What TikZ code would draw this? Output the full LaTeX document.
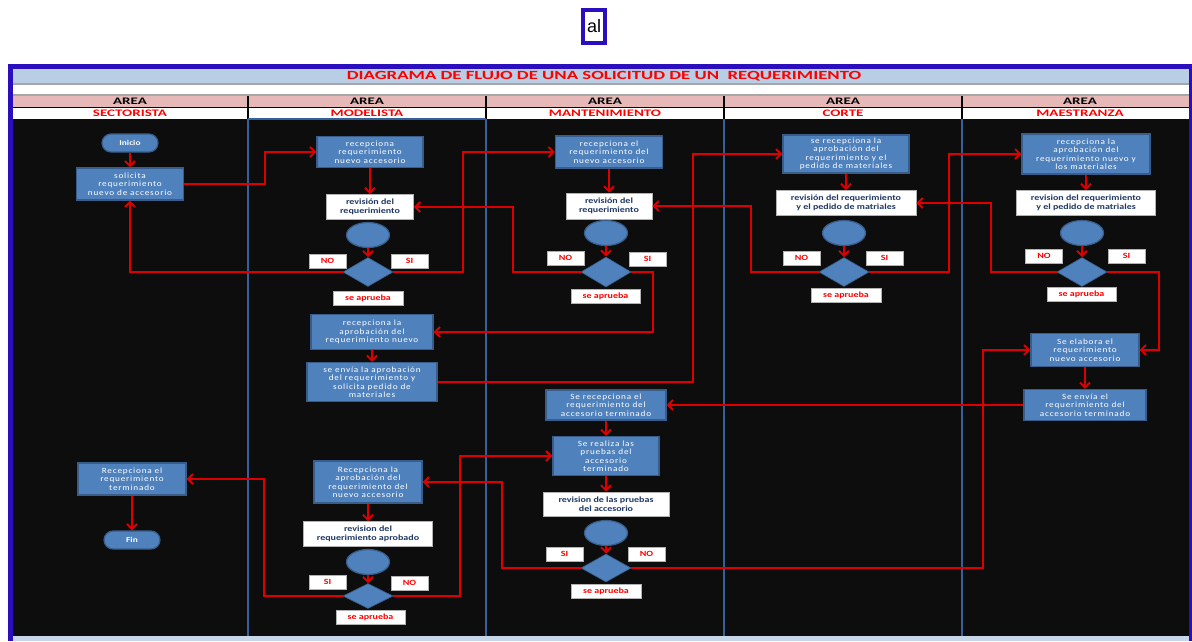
\documentclass[tikz,border=0pt]{standalone}
\usepackage{fontspec}
\usetikzlibrary{shapes.geometric,arrows.meta}
\newfontfamily\xlfont{Carlito}[FakeStretch=1.25]
\newfontfamily\xlwide{Carlito}[FakeStretch=1.5]
\newfontfamily\xlspaced{Carlito}[FakeStretch=1.15,LetterSpace=10]
\newfontfamily\alfont{Liberation Sans}
\definecolor{frame}{HTML}{2B0FBE}
\definecolor{boxblue}{HTML}{4F81BD}
\definecolor{boxedge}{HTML}{385D8A}
\definecolor{flowred}{HTML}{DC0000}
\definecolor{navytxt}{HTML}{1F3864}
\definecolor{titlebar}{HTML}{B9CDE5}
\definecolor{pinkrow}{HTML}{E6B9B8}
\definecolor{body}{HTML}{0D0D0D}
\definecolor{colline}{HTML}{34619C}
\tikzset{
	proc/.style={draw=boxedge, line width=1.2, fill=boxblue, text=white, align=center, inner sep=1,
		font=\xlspaced\fontsize{8}{8.5}\selectfont},
	pill/.style={draw=boxedge, line width=1.2, fill=boxblue, text=white, rounded corners=9,
		minimum width=56, minimum height=18, font=\xlfont\bfseries\fontsize{7.5}{9}\selectfont},
	chk/.style={draw=gray!60, line width=0.8, fill=white, text=navytxt, align=center, inner sep=1,
		font=\xlfont\bfseries\fontsize{8}{9.5}\selectfont},
	tagbox/.style={draw=gray!60, line width=0.8, fill=white, text=red, inner sep=0,
		minimum width=37, minimum height=14, font=\xlfont\bfseries\fontsize{8}{9}\selectfont},
	ovl/.style={ellipse, draw=boxedge, line width=1.2, fill=boxblue, inner sep=0, minimum width=43, minimum height=25},
	dmd/.style={diamond, draw=boxedge, line width=0.6, fill=boxblue, inner sep=0, minimum width=50, minimum height=29},
	flow/.style={draw=flowred, line width=2, -{Straight Barb[length=5pt,width=10pt]}}
}
\begin{document}
\begin{tikzpicture}[x=1pt,y=-1pt]
	\useasboundingbox (0,0) rectangle (1192,641);
	\fill[white] (0,0) rectangle (1192,641);
	\node[draw=frame, line width=4.5, fill=white, minimum width=22, minimum height=33, inner sep=0,
		font=\alfont\fontsize{18}{18}\selectfont] (al) at (594,26.5) {al};
	
	\fill[frame] (8,64) rectangle (1192,641);
	\fill[titlebar] (13,69) rectangle (1189,83);
	\fill[gray!70] (13,83) rectangle (1189,96);
	\fill[white] (13,85) rectangle (1189,94);
	\fill[pinkrow] (13,96) rectangle (1189,107);
	\fill[white] (13,108) rectangle (1189,119);
	\fill[body] (13,119) rectangle (1189,636);
	\fill[titlebar!80!white] (13,636) rectangle (1189,641);
	\draw[black, line width=1.2] (13,107.5) -- (1189,107.5);
	\node[text=red, font=\xlwide\bfseries\fontsize{12.5}{14}\selectfont] (ttl) at (604,76) {DIAGRAMA DE FLUJO DE UNA SOLICITUD DE UN \ REQUERIMIENTO};
	\foreach \cx/\nm [count=\i] in {130/SECTORISTA, 367/MODELISTA, 605/MANTENIMIENTO, 843/CORTE, 1080/MAESTRANZA} {
		\node[font=\xlwide\bfseries\fontsize{10}{10}\selectfont] (area\i) at (\cx,101.5) {AREA};
		\node[text=red, font=\xlwide\bfseries\fontsize{10}{10}\selectfont] (col\i) at (\cx,113.5) {\nm};
	}
	\foreach \lx in {248,486,724,962} {
		\draw[black, line width=1.2] (\lx,96) -- (\lx,119);
		\draw[colline, line width=1.2] (\lx,119) -- (\lx,636);
	}
	\draw[colline, line width=1.2] (248,119) -- (486,119);
	
	\node[pill] (ini) at (130,143) {Inicio};
	\node[proc, minimum width=107, minimum height=32] (soli) at (130,184) {solicita\\requerimiento\\nuevo de accesorio};
	\node[proc, minimum width=108, minimum height=32] (recsec) at (132,479) {Recepciona el\\requerimiento\\terminado};
	\node[pill] (fin) at (132,540) {Fin};
	
	\node[proc, minimum width=106, minimum height=31] (recmod) at (370,152) {recepciona\\requerimiento\\nuevo accesorio};
	\node[chk, minimum width=87, minimum height=25] (revmod) at (370,207) {revisión del\\requerimiento};
	\node[ovl] (omod) at (368,235) {};
	\node[dmd] (dmod) at (368,272) {};
	\node[tagbox] (nomod) at (327.5,261) {NO};
	\node[tagbox] (simod) at (409.5,261) {SI};
	\node[tagbox, minimum width=70] (okmod) at (368,298) {se aprueba};
	\node[proc, minimum width=122, minimum height=35] (apmod) at (372,332) {recepciona la\\aprobación del\\requerimiento nuevo};
	\node[proc, minimum width=130, minimum height=39] (envmod) at (372,382) {se envía la aprobación\\del requerimiento y\\solicita pedido de\\materiales};
	\node[proc, minimum width=108, minimum height=42] (apmod2) at (368,482) {Recepciona la\\aprobación del\\requerimiento del\\nuevo accesorio};
	\node[chk, minimum width=129, minimum height=25] (revmod2) at (368,534) {revision del\\requerimiento aprobado};
	\node[ovl] (omod2) at (368,562) {};
	\node[dmd, minimum height=25] (dmod2) at (368,596) {};
	\node[tagbox] (simod2) at (327.5,582) {SI};
	\node[tagbox] (nomod2) at (409.5,583) {NO};
	\node[tagbox, minimum width=69] (okmod2) at (370.5,617.5) {se aprueba};
	
	\node[proc, minimum width=107, minimum height=32] (recman) at (609,152) {recepciona el\\requerimiento del\\nuevo accesorio};
	\node[chk, minimum width=86, minimum height=26] (revman) at (609,206) {revisión del\\requerimiento};
	\node[ovl] (oman) at (606,233) {};
	\node[dmd, minimum height=30] (dman) at (606,272) {};
	\node[tagbox] (noman) at (565.5,258) {NO};
	\node[tagbox] (siman) at (647.5,259) {SI};
	\node[tagbox, minimum width=69] (okman) at (605.5,296) {se aprueba};
	\node[proc, minimum width=120, minimum height=30] (recter) at (606,405) {Se recepciona el\\requerimiento del\\accesorio terminado};
	\node[proc, minimum width=106, minimum height=39] (prueba) at (606,456) {Se realiza las\\pruebas del\\accesorio\\terminado};
	\node[chk, minimum width=126, minimum height=24] (revman2) at (606,504) {revision de las pruebas\\del accesorio};
	\node[ovl] (oman2) at (606,533) {};
	\node[dmd, minimum height=28] (dman2) at (606,568) {};
	\node[tagbox] (siman2) at (564.5,554) {SI};
	\node[tagbox] (noman2) at (646.5,554) {NO};
	\node[tagbox, minimum width=70] (okman2) at (606,591.5) {se aprueba};
	
	\node[proc, minimum width=126, minimum height=38] (reccor) at (846,154) {se recepciona la\\aprobación del\\requerimiento y el\\pedido de materiales};
	\node[chk, minimum width=140, minimum height=25] (revcor) at (846,203) {revisión del requerimiento\\y el pedido de matriales};
	\node[ovl] (ocor) at (844,233) {};
	\node[dmd] (dcor) at (844,272) {};
	\node[tagbox] (nocor) at (801.5,258) {NO};
	\node[tagbox] (sicor) at (884.5,258) {SI};
	\node[tagbox, minimum width=70] (okcor) at (846,295.5) {se aprueba};
	
	\node[proc, minimum width=128, minimum height=40] (recmae) at (1086,154) {recepciona la\\aprobación del\\requerimiento nuevo y\\los materiales};
	\node[chk, minimum width=139, minimum height=25] (revmae) at (1086,203) {revision del requerimiento\\y el pedido de matriales};
	\node[ovl] (omae) at (1082,233) {};
	\node[dmd] (dmae) at (1082,272) {};
	\node[tagbox] (nomae) at (1044,256) {NO};
	\node[tagbox] (simae) at (1126.5,256) {SI};
	\node[tagbox, minimum width=69] (okmae) at (1081.5,294) {se aprueba};
	\node[proc, minimum width=108, minimum height=33] (elab) at (1085,350) {Se elabora el\\requerimiento\\nuevo accesorio};
	\node[proc, minimum width=122, minimum height=31] (envmae) at (1085,405) {Se envía el\\requerimiento del\\accesorio terminado};
	
	\draw[flow] (ini) -- (soli);
	\draw[flow] (soli.east) -- ++(81,0) |- (recmod.west);
	\draw[flow] (recmod) -- (revmod);
	\draw[flow] (omod) -- (dmod);
	\draw[flow] (dmod.west) -| (soli.south);
	\draw[flow] (dmod.east) -- ++(70,0) |- (recman.west);
	\draw[flow] (recman) -- (revman);
	\draw[flow] (oman) -- (dman);
	\draw[flow] (dman.west) -- ++(-68,0) |- (revmod.east);
	\draw[flow] (dman.east) -- ++(22,0) |- (apmod.east);
	\draw[flow] (apmod) -- (envmod);
	\draw[flow] (envmod.east) -- ++(255,0) |- (reccor.west);
	\draw[flow] (reccor) -- (revcor);
	\draw[flow] (ocor) -- (dcor);
	\draw[flow] (dcor.west) -- ++(-68,0) |- (revman.east);
	\draw[flow] (dcor.east) -- ++(80,0) |- (recmae.west);
	\draw[flow] (recmae) -- (revmae);
	\draw[flow] (omae) -- (dmae);
	\draw[flow] (dmae.west) -- ++(-66,0) |- (revcor.east);
	\draw[flow] (dmae.east) -- ++(52,0) |- (elab.east);
	\draw[flow] (elab) -- (envmae);
	\draw[flow] (envmae) -- (recter);
	\draw[flow] (recter) -- (prueba);
	\draw[flow] (prueba) -- (revman2);
	\draw[flow] (oman2) -- (dman2);
	\draw[flow] (dman2.west) -- ++(-79,0) |- (apmod2.east);
	\draw[flow] (dman2.east) -- ++(352,0) |- (elab.west);
	\draw[flow] (apmod2) -- (revmod2);
	\draw[flow] (omod2) -- (dmod2);
	\draw[flow] (dmod2.west) -- ++(-79,0) |- (recsec.east);
	\draw[flow] (dmod2.east) -- ++(67,0) |- (prueba.west);
	\draw[flow] (recsec) -- (fin);
\end{tikzpicture}
\end{document}
